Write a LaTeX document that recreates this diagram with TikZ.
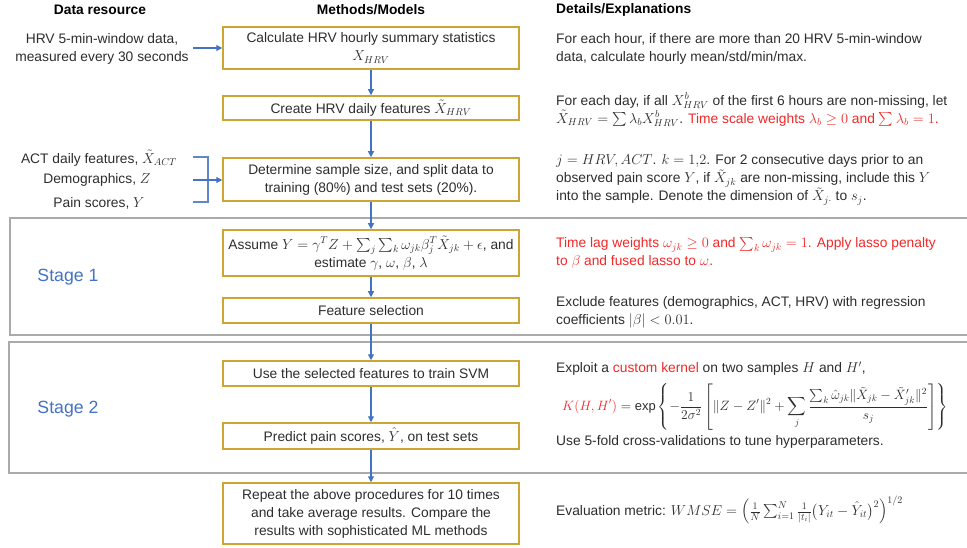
\documentclass[tikz,border=0pt]{standalone}
\usepackage{amsmath}
\usepackage{amssymb}
\usepackage{graphicx}
\usepackage{fontspec}
\setmainfont{Liberation Sans}
\usepackage{tikz}
\usepackage{xcolor}
\usetikzlibrary{arrows.meta}

\definecolor{boxgold}{RGB}{205,165,50}
\definecolor{flowblue}{RGB}{68,114,196}
\definecolor{stagegray}{RGB}{170,170,170}
\definecolor{txtgray}{RGB}{45,45,45}
\definecolor{hired}{RGB}{240,40,40}

\begin{document}
\begin{tikzpicture}[x=1pt,y=-1pt,
    font=\fontsize{13.8}{18}\selectfont, text=txtgray,
    box/.style={draw=boxgold,line width=1.5pt,minimum width=296pt,align=center,inner sep=2pt},
    flow/.style={draw=flowblue,line width=1.1pt,-{Triangle[length=6pt,width=6pt]}},
    stage/.style={draw=stagegray,line width=1.5pt},
    stagelbl/.style={font=\fontsize{17.7}{20}\selectfont,text=flowblue},
    note/.style={anchor=west,align=left,inner sep=0pt},
    hdr/.style={font=\fontsize{13.8}{18}\selectfont\bfseries,text=black}]
\useasboundingbox (0,0) rectangle (967,548);

% stages
\draw[stage] (967,218) -- (10,218) -- (10,335) -- (967,335);
\draw[stage] (967,342) -- (9,342) -- (9,473) -- (967,473);
\node[stagelbl] (s1) at (68,277) {Stage 1};
\node[stagelbl] (s2) at (68,409) {Stage 2};

% headers
\node[hdr] (h1) at (100,10) {Data resource};
\node[hdr] (h2) at (371,10) {Methods/Models};
\node[hdr,anchor=west,inner sep=0pt] (h3) at (556,10) {Details/Explanations};

% methods
\node[box,minimum height=42pt] (b1) at (371,48) {Calculate HRV hourly summary statistics\\$X_{HRV}$};
\node[box,minimum height=24pt] (b2) at (371,108) {Create HRV daily features $\tilde{X}_{HRV}$};
\node[box,minimum height=43pt] (b3) at (371,179.5) {Determine sample size, and split data to\\training (80\%) and test sets (20\%).};
\node[box,minimum height=46pt] (b4) at (371,253) {Assume $Y=\gamma^T Z+\sum_j\sum_k \omega_{jk}\beta_j^T\tilde{X}_{jk}+\epsilon$, and\\estimate $\gamma$, $\omega$, $\beta$, $\lambda$};
\node[box,minimum height=25pt] (b5) at (371,310.5) {Feature selection};
\node[box,minimum height=25pt] (b6) at (371,373.5) {Use the selected features to train SVM};
\node[box,minimum height=26pt] (b7) at (371,436) {Predict pain scores, $\hat{Y}$, on test sets};
\node[box,minimum height=61pt] (b8) at (371,513.5) {Repeat the above procedures for 10 times\\and take average results. Compare the\\results with sophisticated ML methods};
\foreach \a/\b in {b1/b2,b2/b3,b3/b4,b4/b5,b5/b6,b6/b7,b7/b8}{
    \draw[flow] (\a) -- (\b);
}

% data resource
\node[align=center] (l1) at (102,49) {HRV 5-min-window data,\\measured every 30 seconds};
\node (l2) at (99,158) {ACT daily features, $\tilde{X}_{ACT}$};
\node (l3) at (97,180) {Demographics, $Z$};
\node (l4) at (99,203) {Pain scores, $Y$};
\coordinate (hrvin) at (193,48);
\draw[flow] (hrvin) -- (hrvin -| b1.west);
\draw[draw=flowblue!85,line width=1.1pt] (193,157) -- (208,157) -- (208,202) -- (193,202);
\coordinate (brk) at (193,180);
\draw[flow] (brk) -- (brk -| b3.west);

% details
\node[note] (r1) at (556,49) {For each hour, if there are more than 20 HRV 5-min-window\\data, calculate hourly mean/std/min/max.};
\node[note] (r2) at (556,110) {For each day, if all $X^b_{HRV}$ of the first 6 hours are non-missing, let\\$\tilde{X}_{HRV}=\sum\lambda_b X^b_{HRV}$. \textcolor{hired}{Time scale weights $\lambda_b\geq 0$ and $\sum\lambda_b=1$.}};
\node[note] (r3) at (556,180) {$j=HRV, ACT$. $k=1{,}2$. For 2 consecutive days prior to an\\observed pain score $Y$, if $\tilde{X}_{jk}$ are non-missing, include this $Y$\\into the sample. Denote the dimension of $\tilde{X}_{j\cdot}$ to $s_j$.};
\node[note,text=hired] (r4) at (556,253) {Time lag weights $\omega_{jk}\geq 0$ and $\sum_k\omega_{jk}=1$. Apply lasso penalty\\to $\beta$ and fused lasso to $\omega$.};
\node[note] (r5) at (556,312) {Exclude features (demographics, ACT, HRV) with regression\\coefficients $|\beta|<0.01$.};
\node[note] (r6) at (556,369) {Exploit a \textcolor{hired}{custom kernel} on two samples $H$ and $H'$,};
\node[note] (r7) at (562,407) {\resizebox{386pt}{!}{$\displaystyle \textcolor{hired}{K(H,H')}=\exp\left\{-\frac{1}{2\sigma^2}\left[\|Z-Z'\|^2+\sum_j\frac{\sum_k\hat{\omega}_{jk}\|\tilde{X}_{jk}-\tilde{X}'_{jk}\|^2}{s_j}\right]\right\}$}};
\node[note] (r8) at (556,442) {Use 5-fold cross-validations to tune hyperparameters.};
\node[note] (r9) at (556,510) {Evaluation metric: $WMSE=\left(\frac{1}{N}\sum_{i=1}^N\frac{1}{|t_i|}\bigl(Y_{it}-\hat{Y}_{it}\bigr)^2\right)^{1/2}$};
\end{tikzpicture}
\end{document}
